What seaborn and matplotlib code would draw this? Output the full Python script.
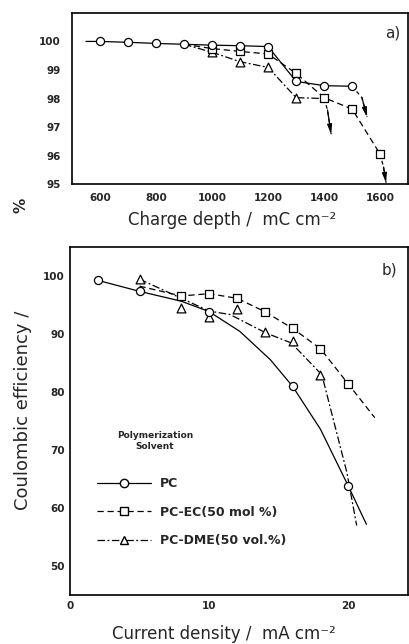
import matplotlib
matplotlib.use("Agg")
import matplotlib.pyplot as plt
import seaborn as sns

# ---- (a) coulombic efficiency vs charge depth ----
depth_pc = [600, 700, 800, 900, 1000, 1100, 1200, 1300, 1400, 1500]
eff_pc_a = [100.0, 99.97, 99.93, 99.9, 99.87, 99.85, 99.82, 98.6, 98.45, 98.43]
depth_ec = [1000, 1100, 1200, 1300, 1400, 1500, 1600]
eff_ec_a = [99.75, 99.65, 99.56, 98.88, 98.03, 97.63, 96.05]
depth_dme = [1000, 1100, 1200, 1300]
eff_dme_a = [99.62, 99.29, 99.09, 98.03]

# drawn curves (pass through the markers, with lead-in / run-out)
curve_pc_a_x = [550] + depth_pc
curve_pc_a_y = [100.0] + eff_pc_a
curve_ec_a_x = [900] + depth_ec
curve_ec_a_y = [99.9] + eff_ec_a
curve_dme_a_x = [900] + depth_dme + [1400]
curve_dme_a_y = [99.9] + eff_dme_a + [98.0]

# failure arrows: start point, bend, tip
arrow_pc_x = [1500, 1535, 1553]
arrow_pc_y = [98.43, 98.03, 97.35]
arrow_ec_x = [1600, 1612, 1621]
arrow_ec_y = [96.05, 95.6, 95.05]
arrow_dme_x = [1400, 1412, 1425]
arrow_dme_y = [98.0, 97.6, 96.75]

# ---- (b) coulombic efficiency vs current density ----
cd_pc = [2, 5, 10, 16, 20]
eff_pc_b = [99.3, 97.4, 93.9, 81.0, 63.8]
cd_ec = [8, 10, 12, 14, 16, 18, 20]
eff_ec_b = [96.6, 97.0, 96.2, 93.9, 91.0, 87.5, 81.4]
cd_dme = [5, 8, 10, 12, 14, 16, 18]
eff_dme_b = [99.5, 94.6, 93.0, 94.3, 90.3, 88.9, 83.0]

# fitted curves as drawn
curve_pc_b_x = [2, 5, 8, 10, 12.2, 14.4, 16, 18, 20, 21.3]
curve_pc_b_y = [99.3, 97.4, 95.7, 93.9, 90.5, 85.6, 81.0, 73.6, 63.8, 57.2]
curve_ec_b_x = [5, 8, 10, 12, 14, 16, 18, 20, 21.9]
curve_ec_b_y = [98.3, 96.6, 97.0, 96.2, 93.9, 91.0, 87.5, 81.4, 75.6]
curve_dme_b_x = [5, 8, 10, 11.5, 14.1, 15.9, 18.1, 19.9, 20.6]
curve_dme_b_y = [99.5, 96.2, 94.0, 93.4, 90.2, 88.5, 83.0, 66.1, 57.0]

series_names = ["PC", "PC-EC(50 mol %)", "PC-DME(50 vol.%)"]

sns.set_theme(style="white")
plt.rcParams["font.family"] = ["DejaVu Sans"]

LS = {"PC": "-", "EC": (0, (5, 3)), "DME": (0, (6, 2, 1.5, 2))}
MK = {"PC": "o", "EC": "s", "DME": "^"}
LW = 0.9

fig = plt.figure(figsize=(4.09, 6.44), dpi=100)
ax_a = fig.add_axes([0.176, 0.714, 0.822, 0.266])
ax_b = fig.add_axes([0.171, 0.076, 0.827, 0.540])


def draw_curve(ax, x, y, key):
    sns.lineplot(x=x, y=y, ax=ax, sort=False, estimator=None, color="black",
                 lw=LW, linestyle=LS[key], zorder=2)


def draw_marks(ax, x, y, key, s=34):
    sns.scatterplot(x=x, y=y, ax=ax, marker=MK[key], s=s, facecolor="white",
                    edgecolor="black", linewidth=LW, zorder=3)


def draw_arrow(ax, x, y):
    sns.lineplot(x=x, y=y, ax=ax, sort=False, estimator=None, color="black",
                 lw=LW, linestyle=(0, (3, 2.5)), zorder=2)
    ax.annotate("", xy=(x[-1], y[-1]), xytext=(x[-2], y[-2]),
                arrowprops=dict(arrowstyle="-|>,head_width=0.2,head_length=0.8",
                                color="black", lw=LW, shrinkA=0, shrinkB=0,
                                mutation_scale=7))


# panel (a)
draw_curve(ax_a, curve_pc_a_x, curve_pc_a_y, "PC")
draw_curve(ax_a, curve_ec_a_x, curve_ec_a_y, "EC")
draw_curve(ax_a, curve_dme_a_x, curve_dme_a_y, "DME")
draw_arrow(ax_a, arrow_pc_x, arrow_pc_y)
draw_arrow(ax_a, arrow_ec_x, arrow_ec_y)
draw_arrow(ax_a, arrow_dme_x, arrow_dme_y)
draw_marks(ax_a, depth_dme, eff_dme_a, "DME", s=40)
draw_marks(ax_a, depth_ec, eff_ec_a, "EC", s=30)
draw_marks(ax_a, depth_pc, eff_pc_a, "PC")

ax_a.set_xlim(500, 1700)
ax_a.set_ylim(95, 101)
ax_a.set_xticks([600, 800, 1000, 1200, 1400, 1600])
ax_a.set_yticks([95, 96, 97, 98, 99, 100])
ax_a.tick_params(axis="x", direction="in", length=6, width=1, pad=6)
ax_a.tick_params(axis="y", direction="out", length=6, width=1, pad=2)
ax_a.text(0.955, 0.88, "a)", transform=ax_a.transAxes, fontsize=11,
          ha="center", va="center")

# panel (b)
draw_curve(ax_b, curve_pc_b_x, curve_pc_b_y, "PC")
draw_curve(ax_b, curve_ec_b_x, curve_ec_b_y, "EC")
draw_curve(ax_b, curve_dme_b_x, curve_dme_b_y, "DME")
draw_marks(ax_b, cd_dme, eff_dme_b, "DME", s=40)
draw_marks(ax_b, cd_ec, eff_ec_b, "EC", s=30)
draw_marks(ax_b, cd_pc, eff_pc_b, "PC")

ax_b.set_xlim(0, 24.3)
ax_b.set_ylim(45, 105)
ax_b.set_xticks([0, 10, 20])
ax_b.set_yticks([50, 60, 70, 80, 90, 100])
ax_b.tick_params(axis="both", direction="in", length=6, width=1, pad=4)
ax_b.text(0.945, 0.935, "b)", transform=ax_b.transAxes, fontsize=11,
          ha="center", va="center")

for ax in (ax_a, ax_b):
    ax.set_xlabel("")
    ax.set_ylabel("")
    for sp in ax.spines.values():
        sp.set_color("black")
        sp.set_linewidth(1.2)
    for lab in ax.get_xticklabels() + ax.get_yticklabels():
        lab.set_fontweight("bold")
        lab.set_fontsize(7.5)

# legend
handles = [
    plt.Line2D([], [], color="black", lw=LW, linestyle=LS[k], marker=MK[k],
               markerfacecolor="white", markeredgecolor="black", markersize=6)
    for k in ("PC", "EC", "DME")
]
ax_b.legend(handles, series_names, loc="upper left",
            bbox_to_anchor=(0.047, 0.372), frameon=False,
            handlelength=4.3, handletextpad=0.7, labelspacing=1.25,
            prop={"weight": "bold", "size": 9})
ax_b.text(0.252, 0.443, "Polymerization\nSolvent", transform=ax_b.transAxes,
          ha="center", va="center", fontsize=6.5, fontweight="bold",
          multialignment="center", linespacing=1.2)

# axis titles
fig.text(232 / 409, 1 - 220 / 644, "Charge depth /  mC cm\u207b\u00b2",
         ha="center", va="center", fontsize=12)
fig.text(224 / 409, 1 - 634 / 644, "Current density /  mA cm\u207b\u00b2",
         ha="center", va="center", fontsize=12)
fig.text(23 / 409, 1 - 410 / 644, "Coulombic efficiency /", rotation=90,
         ha="center", va="center", fontsize=13)
fig.text(21 / 409, 1 - 205 / 644, "%", rotation=90,
         ha="center", va="center", fontsize=11, fontweight="bold")

fig.savefig("out.png", dpi=100, facecolor="white")
